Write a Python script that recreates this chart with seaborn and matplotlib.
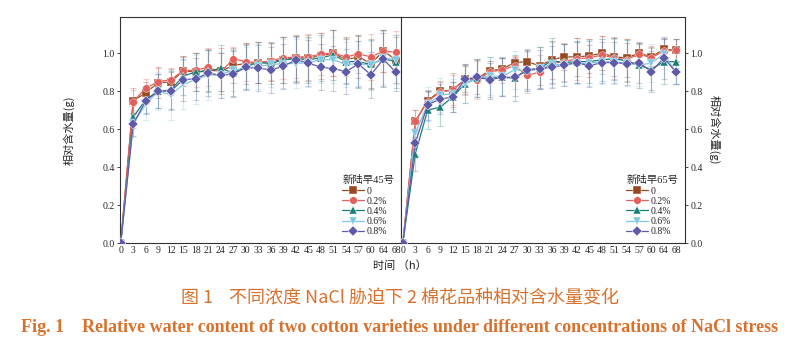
import numpy as np
import pandas as pd
import matplotlib
matplotlib.use("Agg")
import matplotlib.pyplot as plt
import seaborn as sns

sns.set_theme(style="white")
plt.rcParams["font.family"] = ["Liberation Serif", "Noto Sans CJK SC"]

# Sampling times (h) and NaCl concentrations
times = ["0", "3", "6", "9", "12", "15", "18", "21", "24", "27", "30", "33",
         "36", "39", "42", "45", "48", "51", "54", "57", "60", "64", "68"]
concs = ["0", "0.2%", "0.4%", "0.6%", "0.8%"]

# Relative water content, cultivar 新陆早45号
v45_0 = [0, 0.75, 0.79, 0.845, 0.847, 0.907, 0.90, 0.91, 0.905, 0.935, 0.945, 0.95,
         0.955, 0.965, 0.975, 0.975, 0.985, 1.0, 0.965, 0.98, 0.945, 1.01, 0.965]
v45_2 = [0, 0.745, 0.815, 0.85, 0.86, 0.907, 0.91, 0.925, 0.90, 0.97, 0.955, 0.95,
         0.96, 0.975, 0.98, 0.98, 0.995, 1.0, 0.98, 0.995, 0.98, 1.01, 1.005]
v45_4 = [0, 0.663, 0.755, 0.80, 0.805, 0.88, 0.90, 0.905, 0.92, 0.895, 0.93, 0.95,
         0.945, 0.965, 0.97, 0.965, 0.975, 0.99, 0.955, 0.955, 0.94, 0.97, 0.955]
v45_6 = [0, 0.63, 0.73, 0.80, 0.78, 0.835, 0.86, 0.885, 0.885, 0.91, 0.92, 0.93,
         0.94, 0.945, 0.945, 0.95, 0.965, 0.965, 0.94, 0.945, 0.935, 0.975, 0.965]
v45_8 = [0, 0.626, 0.75, 0.80, 0.80, 0.86, 0.865, 0.895, 0.882, 0.89, 0.925, 0.92,
         0.912, 0.93, 0.965, 0.947, 0.926, 0.918, 0.903, 0.942, 0.886, 0.968, 0.898]

# Standard deviations, 新陆早45号
e45_0 = [0, 0.065, 0.06, 0.08, 0.07, 0.08, 0.10, 0.11, 0.12, 0.09, 0.11, 0.11,
         0.10, 0.12, 0.12, 0.12, 0.12, 0.12, 0.12, 0.11, 0.13, 0.11, 0.12]
e45_2 = [0, 0.06, 0.05, 0.07, 0.06, 0.08, 0.09, 0.10, 0.10, 0.06, 0.10, 0.11,
         0.10, 0.11, 0.11, 0.12, 0.11, 0.12, 0.10, 0.10, 0.12, 0.11, 0.11]
e45_4 = [0, 0.06, 0.07, 0.09, 0.10, 0.10, 0.10, 0.11, 0.12, 0.12, 0.12, 0.11,
         0.11, 0.12, 0.12, 0.12, 0.12, 0.13, 0.12, 0.14, 0.13, 0.15, 0.14]
e45_6 = [0, 0.07, 0.08, 0.10, 0.13, 0.13, 0.13, 0.13, 0.12, 0.11, 0.11, 0.12,
         0.12, 0.13, 0.13, 0.13, 0.12, 0.12, 0.12, 0.12, 0.13, 0.14, 0.13]
e45_8 = [0, 0.06, 0.07, 0.09, 0.10, 0.11, 0.11, 0.12, 0.12, 0.12, 0.12, 0.12,
         0.12, 0.12, 0.12, 0.12, 0.12, 0.12, 0.12, 0.12, 0.12, 0.14, 0.10]

# Relative water content, cultivar 新陆早65号
v65_0 = [0, 0.64, 0.75, 0.80, 0.805, 0.863, 0.868, 0.907, 0.916, 0.95, 0.955, 0.933,
         0.965, 0.98, 0.98, 0.985, 1.0, 0.98, 0.975, 1.0, 0.98, 1.02, 1.015]
v65_2 = [0, 0.64, 0.745, 0.795, 0.805, 0.86, 0.86, 0.90, 0.912, 0.933, 0.882, 0.90,
         0.947, 0.955, 0.97, 0.975, 0.99, 0.975, 0.965, 0.995, 0.975, 1.012, 1.015]
v65_4 = [0, 0.47, 0.70, 0.715, 0.768, 0.838, 0.868, 0.868, 0.872, 0.868, 0.912, 0.92,
         0.96, 0.95, 0.955, 0.955, 0.965, 0.97, 0.96, 0.935, 0.915, 0.955, 0.955]
v65_6 = [0, 0.58, 0.73, 0.78, 0.785, 0.838, 0.868, 0.88, 0.877, 0.912, 0.907, 0.92,
         0.943, 0.937, 0.947, 0.947, 0.955, 0.955, 0.947, 0.937, 0.947, 0.996, 0.898]
v65_8 = [0, 0.526, 0.728, 0.758, 0.768, 0.863, 0.873, 0.86, 0.872, 0.873, 0.909, 0.916,
         0.926, 0.937, 0.95, 0.933, 0.95, 0.95, 0.944, 0.95, 0.903, 0.974, 0.898]

# Standard deviations, 新陆早65号
e65_0 = [0, 0.06, 0.05, 0.05, 0.09, 0.07, 0.10, 0.05, 0.06, 0.03, 0.06, 0.10,
         0.10, 0.07, 0.10, 0.09, 0.09, 0.10, 0.10, 0.05, 0.05, 0.06, 0.06]
e65_2 = [0, 0.06, 0.05, 0.06, 0.08, 0.08, 0.10, 0.06, 0.07, 0.05, 0.09, 0.09,
         0.11, 0.10, 0.11, 0.10, 0.10, 0.11, 0.11, 0.06, 0.06, 0.06, 0.06]
e65_4 = [0, 0.09, 0.10, 0.10, 0.08, 0.10, 0.10, 0.11, 0.10, 0.12, 0.11, 0.11,
         0.12, 0.10, 0.11, 0.11, 0.11, 0.11, 0.11, 0.12, 0.11, 0.12, 0.12]
e65_6 = [0, 0.08, 0.09, 0.09, 0.08, 0.10, 0.10, 0.10, 0.10, 0.10, 0.10, 0.11,
         0.12, 0.11, 0.11, 0.12, 0.12, 0.12, 0.12, 0.11, 0.10, 0.08, 0.06]
e65_8 = [0, 0.08, 0.08, 0.08, 0.08, 0.08, 0.09, 0.09, 0.10, 0.10, 0.10, 0.10,
         0.11, 0.11, 0.11, 0.11, 0.11, 0.11, 0.11, 0.11, 0.11, 0.11, 0.06]

cultivars = ["新陆早45号", "新陆早65号"]
series = {
    "新陆早45号": ([v45_0, v45_2, v45_4, v45_6, v45_8], [e45_0, e45_2, e45_4, e45_6, e45_8]),
    "新陆早65号": ([v65_0, v65_2, v65_4, v65_6, v65_8], [e65_0, e65_2, e65_4, e65_6, e65_8]),
}

palette = dict(zip(concs, ["#974a22", "#e2605c", "#1b7d7a", "#7cc7e2", "#5d5aa8"]))
markers = dict(zip(concs, ["s", "o", "^", "v", "D"]))

rows = []
for cv in cultivars:
    vals, errs = series[cv]
    for c, v, e in zip(concs, vals, errs):
        for t, vi, ei in zip(times, v, e):
            rows.append({"cultivar": cv, "time": t, "conc": c, "rwc": vi, "sd": ei})
df = pd.DataFrame(rows)

fig = plt.figure(figsize=(8.0, 3.49), dpi=100)
bottom, height = 0.3037, 0.6476
ax1 = fig.add_axes([0.1506, bottom, 0.3506, height])
ax2 = fig.add_axes([0.5012, bottom, 0.3550, height], sharey=ax1)

tick_fs = 7
for ax, cv in zip([ax1, ax2], cultivars):
    sub = df[df["cultivar"] == cv]
    # error bars under the lines, in a faded tint of each series
    for c in concs:
        s = sub[sub["conc"] == c]
        ax.errorbar(s["time"], s["rwc"], yerr=s["sd"], fmt="none",
                    ecolor=palette[c], alpha=0.3, elinewidth=0.8,
                    capsize=2.2, capthick=0.8, zorder=1)
    sns.lineplot(data=sub, x="time", y="rwc", hue="conc", style="conc",
                 hue_order=concs, style_order=concs, palette=palette,
                 markers=markers, dashes=False, markersize=5.5,
                 markeredgewidth=0.3, linewidth=0.9, ax=ax, zorder=3,
                 legend=True)
    ax.set_ylim(0, 1.19)
    ax.set_xlabel("")
    ax.set_yticks([0, 0.2, 0.4, 0.6, 0.8, 1.0])
    ax.set_yticklabels(["0.0", "0.2", "0.4", "0.6", "0.8", "1.0"])
    ax.tick_params(axis="x", labelsize=tick_fs, length=0, pad=2)
    ax.tick_params(axis="y", labelsize=tick_fs, length=2.5, width=0.6,
                   direction="out", pad=1.5)
    for sp in ax.spines.values():
        sp.set_color("#333333")
        sp.set_linewidth(0.8)
    handles, labels = ax.get_legend_handles_labels()
    for h in handles:
        h.set_markersize(5.5)
    leg = ax.legend(handles, labels, title=cv, loc="lower right",
                    frameon=False, fontsize=7, title_fontsize=7.5,
                    handlelength=2.2, handletextpad=0.3, labelspacing=0.12,
                    borderaxespad=0.3)
    leg._legend_box.align = "left"
    for txt in leg.get_texts():
        txt.set_color("#222222")

ax1.set_xlim(-0.02, 22.4)
ax2.set_xlim(-0.15, 22.7)

ylab = "相对含水量(g)"
ax1.set_ylabel(ylab, fontsize=8, family=["Noto Sans CJK SC"])
ax1.yaxis.set_label_coords(-0.162, 0.5)
ax1.yaxis.set_tick_params(left=True, right=False)
ax2.yaxis.tick_right()
ax2.yaxis.set_label_position("right")
ax2.tick_params(axis="y", labelleft=False, labelright=True)
ax2.set_ylabel(ylab, fontsize=8, family=["Noto Sans CJK SC"],
               rotation=270, va="center", ha="center")
ax2.yaxis.set_label_coords(1.105, 0.5)

fig.text(0.50, 0.24, "时间 （h）", ha="center", va="center", fontsize=8,
         family=["Noto Sans CJK SC"], color="#222222")

cap_color = "#d9712d"
fig.text(0.5, 0.146, "图 1    不同浓度 NaCl 胁迫下 2 棉花品种相对含水量变化",
         ha="center", va="center", fontsize=13, color=cap_color,
         family=["Noto Sans CJK SC"])
fig.text(0.5, 0.063, "Fig. 1    Relative water content of two cotton varieties under different concentrations of NaCl stress",
         ha="center", va="center", fontsize=13, color=cap_color,
         fontweight="bold", family=["Liberation Serif"])

fig.savefig("out.png", dpi=100)
